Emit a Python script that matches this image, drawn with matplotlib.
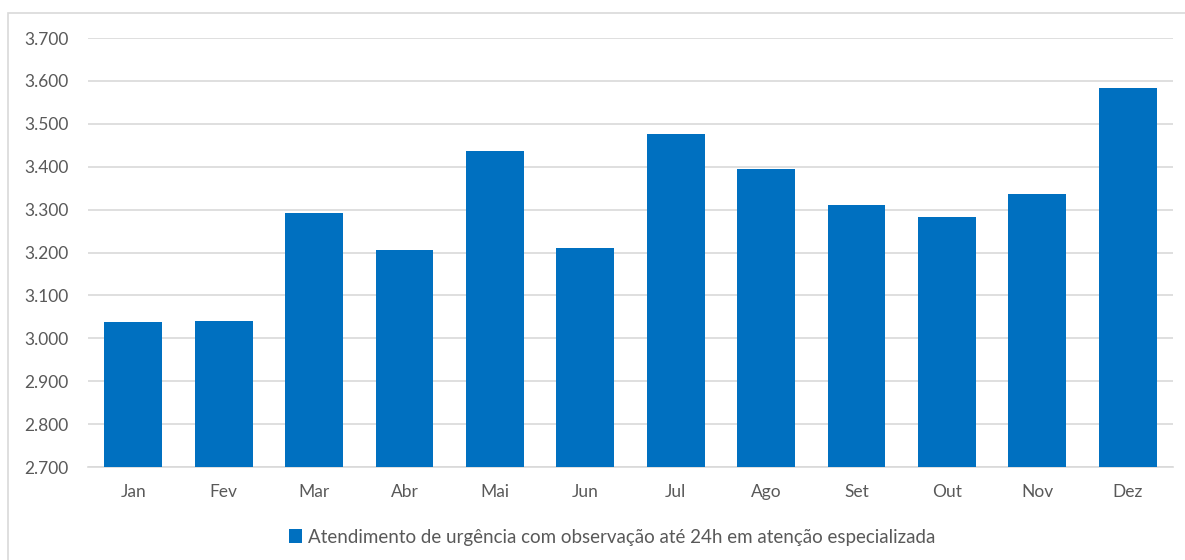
import matplotlib
matplotlib.use("Agg")
import matplotlib.pyplot as plt
from matplotlib.patches import Rectangle

meses = ["Jan", "Fev", "Mar", "Abr", "Mai", "Jun", "Jul", "Ago", "Set", "Out", "Nov", "Dez"]
atendimentos = [3038, 3040, 3292, 3206, 3437, 3210, 3476, 3395, 3311, 3283, 3336, 3583]
serie = "Atendimento de urgência com observação até 24h em atenção especializada"
yticks = [2700, 2800, 2900, 3000, 3100, 3200, 3300, 3400, 3500, 3600, 3700]

plt.rcParams['font.family'] = ['Lato', 'DejaVu Sans']
cor = "#0070C0"
texto = "#595959"

fig = plt.figure(figsize=(11.85, 5.6), dpi=100)
ax = fig.add_axes([88/1185, 93/560, (1173-88)/1185, (467-38)/560])

# moldura do grafico
fig.patches.append(Rectangle((8/1185, -0.1), 1.2, (560-13)/560 + 0.1,
                             transform=fig.transFigure, fill=False,
                             edgecolor="#D9D9D9", linewidth=1.2))

x = list(range(len(meses)))
ax.bar(x, atendimentos, width=0.64, color=cor, label=serie, zorder=3)
ax.set_xlim(-0.5, len(meses) - 0.5)
ax.set_ylim(2700, 3700)
ax.set_yticks(yticks)
ax.set_yticklabels(["{:.3f}".format(v / 1000) for v in yticks])
ax.set_xticks(x)
ax.set_xticklabels(meses)
ax.grid(axis="y", color="#D9D9D9", linewidth=1.2, zorder=0)
for s in ["top", "right", "left"]:
    ax.spines[s].set_visible(False)
ax.spines["bottom"].set_color("#D9D9D9")
ax.spines["bottom"].set_linewidth(1.2)
ax.tick_params(axis="both", length=0, labelsize=12.5, colors=texto)
ax.tick_params(axis="x", pad=12)
ax.tick_params(axis="y", pad=14)

leg = fig.legend(loc="center", bbox_to_anchor=(612/1185, 1 - 537/560), frameon=False,
                 fontsize=13.5, handlelength=0.7, handleheight=0.7, handletextpad=0.3)
for t in leg.get_texts():
    t.set_color(texto)

fig.savefig("out.png", dpi=100)
